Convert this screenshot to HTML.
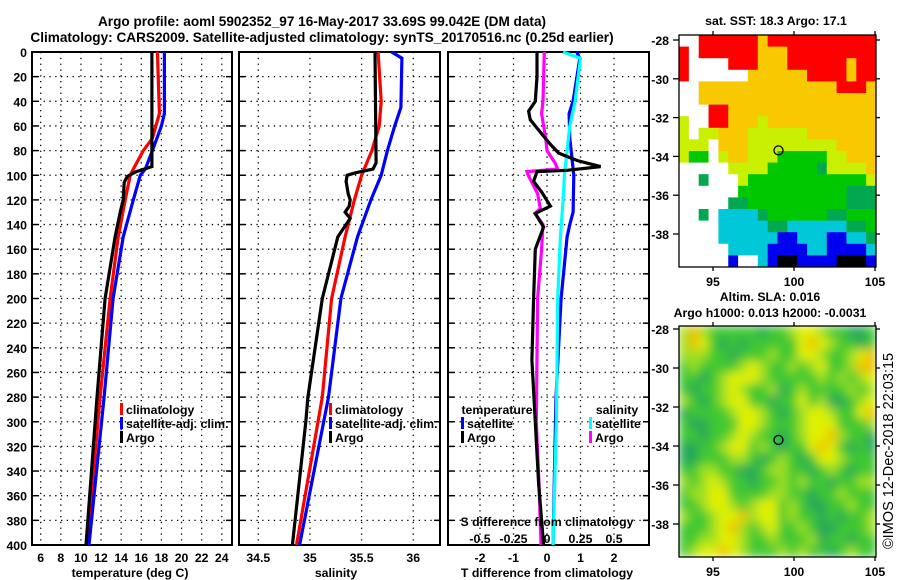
<!DOCTYPE html>
<html><head><meta charset="utf-8">
<style>
html,body{margin:0;padding:0;background:#fff;}
svg{display:block;font-family:"Liberation Sans",Arial,sans-serif;font-weight:bold;}
</style></head>
<body>
<svg id="c" width="900" height="580" viewBox="0 0 900 580" xmlns="http://www.w3.org/2000/svg">
<defs>
<filter id="blur" x="0" y="0" width="1" height="1"><feGaussianBlur stdDeviation="5"/></filter>
<clipPath id="slaclip"><rect x="679" y="326" width="197" height="231"/></clipPath>
</defs>
<text x="322" y="26" font-size="13.6" text-anchor="middle">Argo profile: aoml 5902352_97 16-May-2017 33.69S 99.042E (DM data)</text>
<text x="322" y="42" font-size="13.6" text-anchor="middle">Climatology: CARS2009. Satellite-adjusted climatology: synTS_20170516.nc (0.25d earlier)</text>
<g id="g"></g>
</svg>
<script>
// ---- data ----
const depthTicks=[0,20,40,60,80,100,120,140,160,180,200,220,240,260,280,300,320,340,360,380,400];
const tTicks=[6,8,10,12,14,16,18,20,22,24];
const sTicks=[34.5,35,35.5,36];
const sTickLabels=["34.5","35","35.5","36"];
const dTTicks=[-2,-1,0,1,2];
const dSTicks=[-0.5,-0.25,0,0.25,0.5];
const dSTickLabels=["-0.5","-0.25","0","0.25","0.5"];

const tArgoDepth=[0,93,97,101,106,120,130,150,200,280,400];
const tArgo=[17.05,17.05,15.5,14.6,14.3,14.2,13.9,13.4,12.4,11.6,10.5];
const tClimDepth=[0,50,70,80,95,100,120,150,200,280,400];
const tClim=[17.6,17.8,17.1,16.2,15.2,14.9,14.4,13.7,12.9,11.9,10.6];
const tSatDepth=[0,50,60,80,95,100,120,150,200,280,400];
const tSat=[18.3,18.3,18.0,17.1,16.4,15.9,15.2,14.2,13.2,12.3,10.8];

const sArgoDepth=[0,90,95,98,100,105,115,120,125,130,135,150,200,280,300,400];
const sArgo=[35.63,35.64,35.61,35.44,35.36,35.35,35.37,35.39,35.38,35.34,35.39,35.27,35.12,34.98,34.96,34.83];
const sClimDepth=[0,40,60,80,100,120,150,200,280,400];
const sClim=[35.66,35.69,35.67,35.60,35.50,35.43,35.34,35.21,35.12,34.87];
const sSatDepth=[0,5,45,60,80,100,120,150,200,280,400];
const sSat=[35.79,35.89,35.88,35.82,35.75,35.69,35.59,35.46,35.30,35.18,34.90];

const dTArgoDepth=[0,20,40,48,55,65,75,82,88,93,96,97,105,114,125,131,142,160,200,250,300,350,400];
const dTArgo=[-0.3,-0.3,-0.35,-0.55,-0.5,-0.2,0.1,0.35,0.9,1.6,0.6,-0.3,-0.4,-0.15,0.1,-0.35,-0.1,-0.35,-0.4,-0.45,-0.35,-0.25,-0.1];
const dTSatDepth=[0,5,40,50,70,100,130,140,150,200,280,400];
const dTSat=[0.89,0.98,0.78,0.66,0.68,0.8,0.78,0.68,0.6,0.42,0.27,0.18];
const dSArgoDepth=[0,40,50,70,80,90,95,97,100,115,127,131,140,160,200,300,350,400];
const dSArgo=[-0.02,-0.03,-0.04,-0.01,0.0,0.06,0.08,-0.15,-0.14,-0.07,-0.05,-0.09,-0.03,-0.04,-0.07,-0.08,-0.06,-0.045];
const dSSatDepth=[0,5,40,60,80,100,120,150,200,300,400];
const dSSat=[0.12,0.25,0.21,0.17,0.15,0.13,0.12,0.10,0.08,0.07,0.045];

const sstRows=[
"WWRRRRRRORRRRRRRRRRR","RWRRRRRROOORRRRRRRRR","RWWWWRRROOORRRRRRORR","RWWWWWWOOOOOORRRRORR",
"WWOOOOOOOOOOOOOORRRO","WWOOOOOOOOOOOOOOOOOO","WWWRROOOOOOOOOOOOOOO","YWWRROOOYOOOOOOOOOOO",
"YWYYOOOYYYYYYOOOOOOO","YYYWOOOYYYYYYYYYOOOO","YGGWYOOYYYGGGGGYYOOO","WWWWWYYYYGGGGGDYYYYO",
"WWDWWWYGGGGGGGGGGGGY","WWWWWWGGGGGGGGGGGDDD","WWWWWDDGGGGGGGGGGDDD","WWDWCCCCDGGGGGGDDGGG",
"WWWWCCCCCDDCCCCCCDDG","WWWWCCCCCCBBCCCBBCCD","WWWWWCCCCBBBBCCBBBBC","WWWWWBWWCBKKBBBBKKKB"];
const slaRows=[
"LOLGGGGGDGGLYYLGGDDG","LOYGDGDGGGGGYOYLGGDG","LLLGGDGGGLGGYYLGGLYO","GLGGGGLYLGGLGLYGGLOO",
"GGDGLYYYLGGGGGLGLGLY","GDGGLYLGGLDGLGGGGLGL","LGDGLYYGGDGGYGLDDGLY","DGGGGLYYLGDGLYYLGGYO",
"GDDGGGYYLGGGLYYYGGGL","GGDGGLYLGGDGLYYOLGGD","DDGGLYYGLGDGGYOYGDGD","DDGGGLLGDGLGDGYYLGGG",
"GGLLGGDDGLLGGDGLGDGG","LGLYLGGDGGLGLGGDGGLL","GLLYYGGGGLLGGDGGLGGG","GGLYYLGLYYGLGDDGGLGG",
"LGGLYYOLYYGLGGDGDGGL","GGGLYOLGLYGGLGDDGGGL","GGLLYYLGGLGGGLDGGDGG","GLYYOYLGGGLGLGGDGLGG"];
const lonTicks=[95,100,105];
const latTicks=[-28,-30,-32,-34,-36,-38];

// ---- helpers ----
const NS="http://www.w3.org/2000/svg";
const G=document.getElementById('g');
function el(tag,attrs,parent){const e=document.createElementNS(NS,tag);for(const k in attrs)e.setAttribute(k,attrs[k]);(parent||G).appendChild(e);return e;}
const Y0=52,Y1=545;
const yD=d=>Y0+(d/400)*(Y1-Y0);
const P1={x0:32,x1:232,f:v=>40.7+(v-6)*10.06};
const P2={x0:239,x1:440,f:v=>258.3+(v-34.5)*103.3};
const P3={x0:448,x1:649,f:v=>547+v*33.5};
const fS3=v=>547+v*134;
const FS=12.3;

function frame(P,name,ticks,labels,ylabels){
  const gr=el('g',{});
  
  
  depthTicks.forEach(d=>{
    if(d>0&&d<400){const l=el('line',{x1:P.x0,x2:P.x1,y1:yD(d),y2:yD(d),stroke:'#000','stroke-width':1.3,'stroke-dasharray':'1.3 4.5'},gr);
      }
    el('line',{x1:P.x0,x2:P.x0+6,y1:yD(d),y2:yD(d),stroke:'#000','stroke-width':1.5},gr);
    el('line',{x1:P.x1-6,x2:P.x1,y1:yD(d),y2:yD(d),stroke:'#000','stroke-width':1.5},gr);
    if(ylabels){const t=el('text',{x:27,y:yD(d)+5,'font-size':FS,'text-anchor':'end'},gr);t.textContent=d;
      }
  });
  ticks.forEach((v,i)=>{
    const x=P.f(v);
    const l=el('line',{x1:x,x2:x,y1:Y0,y2:Y1,stroke:'#000','stroke-width':1.3,'stroke-dasharray':'1.3 4.5'},gr);
    
    if(labels){const t=el('text',{x:x,y:562,'font-size':FS,'text-anchor':'middle'},gr);t.textContent=labels[i];
      }
  });
  el('rect',{x:P.x0,y:Y0,width:P.x1-P.x0,height:Y1-Y0,fill:'none',stroke:'#000','stroke-width':2},gr);
  return gr;
}
function series(fx,vals,depths,color,name){
  const pts=vals.map((v,i)=>fx(v).toFixed(1)+','+yD(depths[i]).toFixed(1)).join(' ');
  const p=el('polyline',{points:pts,fill:'none',stroke:color,'stroke-width':3.2,'stroke-linejoin':'miter'});
  
  
}
function txt(x,y,s,size,anchor,name){
  const t=el('text',{x:x,y:y,'font-size':size,'text-anchor':anchor||'start'});t.textContent=s;
  
  
  return t;
}
function legend(x,y,color,label,name){
  const r=el('rect',{x:x,y:y-11,width:3,height:12,fill:color});
  
  
  txt(x+6,y,label,FS,'start',name);
}

// ---- panel 1 temperature ----
frame(P1,'temperature-panel',tTicks,tTicks,true);
series(P1.f,tClim,tClimDepth,'#f00','temperature-climatology-line');
series(P1.f,tSat,tSatDepth,'#00f','temperature-satellite-line');
series(P1.f,tArgo,tArgoDepth,'#000','temperature-argo-line');
legend(120,414,'#f00','climatology','legend-climatology');
legend(120,428,'#00f','satellite-adj. clim.','legend-satellite-adj');
legend(120,442,'#000','Argo','legend-argo');
txt(130,577,'temperature (deg C)',FS,'middle','temperature-axis-title');

// ---- panel 2 salinity ----
frame(P2,'salinity-panel',sTicks,sTickLabels,false);
series(P2.f,sClim,sClimDepth,'#f00','salinity-climatology-line');
series(P2.f,sSat,sSatDepth,'#00f','salinity-satellite-line');
series(P2.f,sArgo,sArgoDepth,'#000','salinity-argo-line');
legend(329,414,'#f00','climatology','legend-climatology-2');
legend(329,428,'#00f','satellite-adj. clim.','legend-satellite-adj-2');
legend(329,442,'#000','Argo','legend-argo-2');
txt(336,577,'salinity',FS,'middle','salinity-axis-title');

// ---- panel 3 differences ----
frame(P3,'difference-panel',dTTicks,dTTicks,false);
series(P3.f,dTSat,dTSatDepth,'#00f','dT-satellite-line');
series(fS3,dSSat,dSSatDepth,'#0ff','dS-satellite-line');
series(fS3,dSArgo,dSArgoDepth,'#f0f','dS-argo-line');
series(P3.f,dTArgo,dTArgoDepth,'#000','dT-argo-line');
txt(497,414,'temperature',FS,'middle','legend-temperature-header');
legend(461,428,'#00f','satellite','legend-t-satellite');
legend(461,442,'#000','Argo','legend-t-argo');
txt(617,414,'salinity',FS,'middle','legend-salinity-header');
legend(589,428,'#0ff','satellite','legend-s-satellite');
legend(589,442,'#f0f','Argo','legend-s-argo');
txt(547,526,'S difference from climatology',FS,'middle','s-diff-axis-title');
dSTicks.forEach((v,i)=>{txt(fS3(v),543,dSTickLabels[i],FS,'middle','s-diff-tick-label');});
txt(547,577,'T difference from climatology',FS,'middle','t-diff-axis-title');

// ---- maps ----
const sstCol={W:'#fff',R:'#f00',O:'#f8c800',Y:'#c8f000',G:'#00c800',D:'#00a850',C:'#00c8d8',B:'#0000f0',K:'#000'};
const slaCol={G:'#40c830',D:'#28a858',L:'#a0e020',Y:'#e0f000',O:'#f0c000'};
const MX0=679,MX1=876;
const lonX=l=>713+(l-95)*16.2;
function map(rows,cols,y0,y1,latY,name,blur){
  const gr=el('g',{});
  
  
  const nr=rows.length,nc=rows[0].length;
  const cw=(MX1-MX0)/nc,ch=(y1-y0)/nr;
  let cellsG=gr;
  if(blur){const cl=el('g',{'clip-path':'url(#slaclip)'},gr);cellsG=el('g',{filter:'url(#blur)'},cl);
    el('rect',{x:MX0,y:y0,width:MX1-MX0,height:y1-y0,fill:'#40c830'},cellsG);}
  rows.forEach((r,i)=>{for(let j=0;j<nc;j++){
    const c=el('rect',{x:(MX0+j*cw).toFixed(2),y:(y0+i*ch).toFixed(2),width:(cw+0.4).toFixed(2),height:(ch+0.4).toFixed(2),fill:cols[r[j]]},cellsG);
    
  }});
  el('rect',{x:MX0,y:y0,width:MX1-MX0,height:y1-y0,fill:'none',stroke:'#000','stroke-width':1.3},gr);
  latTicks.forEach(l=>{const y=latY(l);
    el('line',{x1:MX0-6,x2:MX0,y1:y,y2:y,stroke:'#000','stroke-width':1.3},gr);
    el('line',{x1:MX1,x2:MX1+4,y1:y,y2:y,stroke:'#000','stroke-width':1.3},gr);
    txt(669,y+5,String(l),FS,'end','latitude-tick-label');});
  lonTicks.forEach(l=>{const x=lonX(l);
    el('line',{x1:x,x2:x,y1:y1,y2:y1+4,stroke:'#000','stroke-width':1.3},gr);
    el('line',{x1:x,x2:x,y1:y0-4,y2:y0,stroke:'#000','stroke-width':1.3},gr);
    txt(x,y1+19,String(l),FS,'middle','longitude-tick-label');});
  const lat=-33.69,lon=99.042;
  const m=el('circle',{cx:lonX(lon),cy:latY(lat),r:4.5,fill:'none',stroke:'#000','stroke-width':1.3},gr);
  
}
map(sstRows,sstCol,35,267,l=>40+(-28-l)*19.4,'sst-map',false);
map(slaRows,slaCol,326,557,l=>329+(-28-l)*19.5,'sla-map',true);
txt(776,25,'sat. SST: 18.3 Argo: 17.1',FS,'middle','sst-map-title');
txt(770,301,'Altim. SLA: 0.016',FS,'middle','sla-map-title');
txt(770,317,'Argo h1000: 0.013 h2000: -0.0031',FS,'middle','sla-map-subtitle');
const cr=txt(0,0,'©IMOS 12-Dec-2018 22:03:15',14.5,'start','copyright-stamp');
cr.setAttribute('font-weight','normal');
cr.setAttribute('transform','translate(893,549) rotate(-90)');
</script>
</body></html>
